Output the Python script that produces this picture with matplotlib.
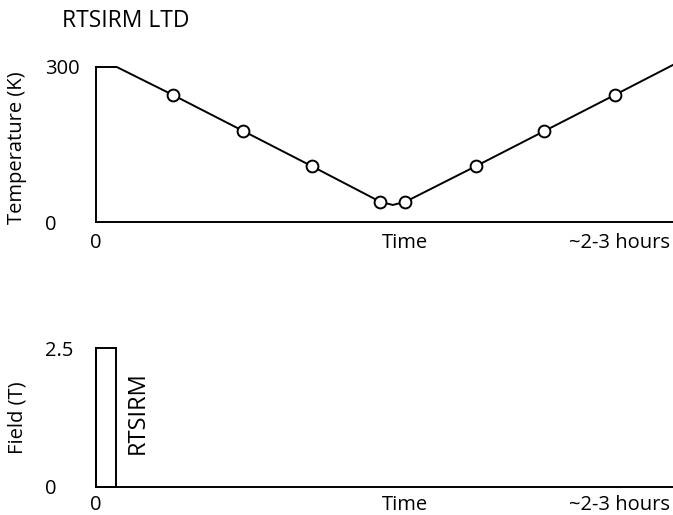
import matplotlib
matplotlib.use("Agg")
import matplotlib.pyplot as plt

# temperature sweep (time in hours), with a short hold at 300 K
tempTime = [0.0, 0.10, 0.37, 0.71, 1.04, 1.37, 1.43, 1.49, 1.83, 2.16, 2.50, 2.78]
tempK    = [300, 300, 246, 176, 108, 39, 33, 39, 108, 176, 246, 304]
measIdx  = [2, 3, 4, 5, 7, 8, 9, 10]    # measurement points along the sweep

# field pulse at the start
pulseStart = 0.0
pulseWidth = 0.096
pulseField = 2.5

timeTicks  = [0.0, 1.49, 2.52]
timeLabels = ["0", "Time", "~2-3 hours"]
tempTicks  = [0, 300]
tempLabels = ["0", "300"]
fieldTicks = [0, 2.5]
fieldLabels = ["0", "2.5"]

plt.rcParams["font.family"] = ["Open Sans", "DejaVu Sans"]
FS = 14.5
LW = 1.4

def styleAxes(ax, yTicks, yLabels, xPad):
    for s in ("top", "right"):
        ax.spines[s].set_visible(False)
    for s in ("left", "bottom"):
        ax.spines[s].set_linewidth(LW)
    ax.set_xlim(0, 2.78)
    ax.set_xticks(timeTicks)
    ax.set_xticklabels(timeLabels, fontsize=FS)
    ax.set_yticks(yTicks)
    ax.set_yticklabels(yLabels, fontsize=FS, ha="left")
    ax.tick_params(axis="x", length=0, pad=xPad)
    ax.tick_params(axis="y", length=0, pad=36.7)

fig = plt.figure(figsize=(6.73, 5.15), dpi=100)

axT = fig.add_axes([96/673, 293/515, 577/673, 155/515])
axT.plot(tempTime, tempK, color="black", lw=LW, marker="o", markevery=measIdx,
         markersize=8.5, markerfacecolor="white", markeredgewidth=LW, clip_on=False)
axT.set_ylim(0, 300)
styleAxes(axT, tempTicks, tempLabels, 8)
axT.set_ylabel("Temperature (K)", fontsize=FS, va="center")
axT.yaxis.set_label_coords(-79/577, 0.477)

axB = fig.add_axes([96/673, 28/515, 577/673, 139/515])
axB.bar(pulseStart, pulseField, width=pulseWidth, align="edge", color="white",
        edgecolor="black", lw=LW, clip_on=False)
axB.set_ylim(0, 2.5)
styleAxes(axB, fieldTicks, fieldLabels, 6)
axB.set_ylabel("Field (T)", fontsize=FS, va="center")
axB.yaxis.set_label_coords(-78/577, 0.496)
axB.text(0.202, 1.33, "RTSIRM", rotation=90, ha="center", va="center", fontsize=17)

fig.text(62/673, 1 - 27/515, "RTSIRM LTD", fontsize=16.5, va="baseline")

fig.savefig("out.png", dpi=100)
